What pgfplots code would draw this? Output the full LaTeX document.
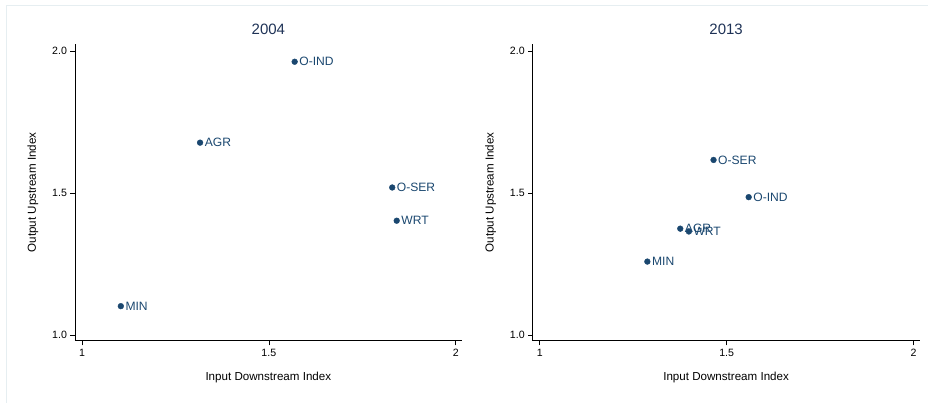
\documentclass[border=0pt]{standalone}
\usepackage{fontspec}
\setmainfont{Liberation Sans}
\usepackage{pgfplots}
\pgfplotsset{compat=1.18}
\definecolor{stnavy}{HTML}{1A476F}
\definecolor{ttl}{HTML}{1E3256}
\definecolor{framec}{HTML}{E6EEF1}

\pgfplotsset{
 panel/.style={
  scale only axis, width=387pt, height=297pt,
  xmin=0.9813, xmax=2.016, ymin=0.9789, ymax=2.0246,
  axis x line*=bottom, axis y line*=left,
  axis line style={black, line width=0.8pt},
  xtick={1,1.5,2}, xticklabels={1,1.5,2},
  ytick={1,1.5,2}, yticklabels={1.0,1.5,2.0},
  tick align=outside, major tick length=4.5pt,
  tick style={black, line width=0.6pt},
  tick label style={font=\fontsize{10.6}{12}\selectfont},
  /pgf/number format/assume math mode=true,
  xlabel={Input Downstream Index}, ylabel={Output Upstream Index},
  every axis x label/.style={at={(axis description cs:0.5,-0.1246)}, anchor=center, font=\fontsize{11.6}{13}\selectfont},
  every axis y label/.style={at={(axis description cs:-0.1085,0.5)}, anchor=center, rotate=90, font=\fontsize{11.6}{13}\selectfont},
  title style={at={(axis description cs:0.5,1.0303)}, anchor=center, font=\fontsize{15}{17}\selectfont, text=ttl},
  clip=false,
 },
 pts/.style={only marks, mark=*, mark size=2.9pt, mark options={fill=stnavy, draw=stnavy},
  nodes near coords, point meta=explicit symbolic,
  every node near coord/.style={anchor=west, xshift=4.5pt, font=\fontsize{12.1}{14}\selectfont, text=stnavy, inner sep=0pt}}
}

\begin{document}
\begin{tikzpicture}[x=1pt,y=1pt]
\path (0,0) rectangle (928,403);
\draw[framec, line width=1pt] (7,0) -- (7,397) -- (928,397);

\begin{axis}[panel, at={(75pt,62pt)}, anchor=south west, title={2004}]
\addplot[pts] coordinates {
 (1.569,1.962) [O-IND]
 (1.316,1.677) [AGR]
 (1.830,1.519) [O-SER]
 (1.842,1.402) [WRT]
 (1.104,1.101) [MIN]
};
\end{axis}

\begin{axis}[panel, at={(533pt,62pt)}, anchor=south west, title={2013}]
\addplot[pts] coordinates {
 (1.465,1.616) [O-SER]
 (1.559,1.485) [O-IND]
 (1.376,1.374) [AGR]
 (1.399,1.364) [WRT]
 (1.288,1.258) [MIN]
};
\end{axis}
\end{tikzpicture}
\end{document}
